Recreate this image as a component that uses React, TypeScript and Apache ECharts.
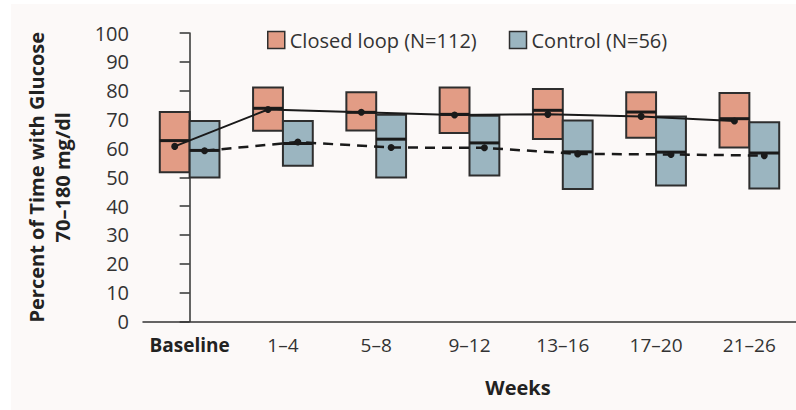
import React, { useEffect, useRef } from "react";
import * as echarts from "echarts";

const categories = ["Baseline", "1–4", "5–8", "9–12", "13–16", "17–20", "21–26"];
// [q1, median, q3]
const closedBoxes = [
  [51.7, 62.7, 72.6],
  [66.1, 73.9, 81.1],
  [66.2, 72.5, 79.5],
  [65.3, 71.8, 81.1],
  [63.3, 73.2, 80.6],
  [63.7, 72.6, 79.5],
  [60.3, 70.3, 79.2],
];
const controlBoxes = [
  [49.9, 59.3, 69.5],
  [54.0, 61.7, 69.5],
  [49.9, 63.2, 71.7],
  [50.6, 61.9, 71.3],
  [45.9, 58.8, 69.7],
  [47.1, 58.7, 71.1],
  [46.1, 58.4, 69.1],
];
const closedMeans = [60.7, 73.5, 72.5, 71.6, 71.8, 71.1, 69.5];
const controlMeans = [59.2, 62.2, 60.3, 60.2, 58.1, 57.9, 57.5];
const yTicks = { min: 0, max: 100, interval: 10 };

const FONT = "'Open Sans', sans-serif";
const CLOSED = "#E29C85";
const CONTROL = "#9BB5C0";
const EDGE = "#2e2e2e";
const BOX_W = 0.32;

function boxRender(offset: number, fill: string) {
  return (params: any, api: any) => {
    const i = api.value(0);
    const q1 = api.value(1);
    const med = api.value(2);
    const q3 = api.value(3);
    const w = api.size([BOX_W, 0])[0];
    const pTop = api.coord([i + offset, q3]);
    const pBot = api.coord([i + offset, q1]);
    const pMed = api.coord([i + offset, med]);
    return {
      type: "group",
      children: [
        {
          type: "rect",
          shape: { x: pTop[0] - w / 2, y: pTop[1], width: w, height: pBot[1] - pTop[1] },
          style: { fill, stroke: EDGE, lineWidth: 2 },
        },
        {
          type: "line",
          shape: { x1: pMed[0] - w / 2, y1: pMed[1], x2: pMed[0] + w / 2, y2: pMed[1] },
          style: { stroke: "#1a1a1a", lineWidth: 3 },
        },
      ],
    };
  };
}

export default function App() {
  const ref = useRef<HTMLDivElement>(null);
  useEffect(() => {
    document.body.style.margin = "0";
    const chart = echarts.init(ref.current!, null, { renderer: "svg" });
    const off = BOX_W / 2;
    chart.setOption({
      animation: false,
      backgroundColor: "#ffffff",
      textStyle: { fontFamily: FONT },
      graphic: [
        { type: "rect", z: -10, silent: true, shape: { x: 11, y: 4, width: 790, height: 410 }, style: { fill: "#fcf9f8" } },
        {
          type: "text",
          x: 518,
          y: 387,
          style: { text: "Weeks", font: `bold 20px ${FONT}`, fill: "#222", align: "center", verticalAlign: "middle" },
        },
      ],
      legend: {
        left: 262,
        top: 25,
        itemWidth: 17,
        itemHeight: 17,
        itemGap: 32,
        textStyle: { fontFamily: FONT, fontSize: 20, color: "#333" },
        data: [
          { name: "Closed loop (N=112)", icon: "rect", itemStyle: { color: CLOSED, borderColor: EDGE, borderWidth: 1.5 } },
          { name: "Control (N=56)", icon: "rect", itemStyle: { color: CONTROL, borderColor: EDGE, borderWidth: 1.5 } },
        ],
      },
      grid: { left: 143, top: 33, width: 658, height: 288.5 },
      xAxis: [
        {
          type: "category",
          data: categories,
          axisLine: { lineStyle: { color: "#333", width: 1.5 } },
          axisTick: { alignWithLabel: true, length: 10, lineStyle: { color: "#333", width: 1.5 } },
          axisLabel: {
            interval: 0,
            margin: 14,
            fontFamily: FONT,
            fontSize: 19,
            color: "#333",
            formatter: (v: string, i: number) => (i === 0 ? `{b|${v}}` : v),
            rich: { b: { fontWeight: "bold", fontFamily: FONT, fontSize: 19, color: "#222" } },
          },
        },
        { type: "value", min: -0.5, max: 6.5, show: false },
      ],
      yAxis: {
        type: "value",
        min: yTicks.min,
        max: yTicks.max,
        interval: yTicks.interval,
        splitLine: { show: false },
        axisLine: { show: true, lineStyle: { color: "#333", width: 1.5 } },
        axisTick: { show: true, length: 10, lineStyle: { color: "#333", width: 1.5 } },
        axisLabel: { fontFamily: FONT, fontSize: 20, color: "#333", margin: 14 },
        name: "Percent of Time with Glucose\n70–180 mg/dl",
        nameLocation: "middle",
        nameGap: 68,
        nameTextStyle: { fontFamily: FONT, fontSize: 20, fontWeight: "bold", color: "#222", lineHeight: 26 },
      },
      series: [
        {
          name: "Closed loop (N=112)",
          type: "custom",
          xAxisIndex: 1,
          renderItem: boxRender(-off, CLOSED),
          encode: { x: 0, y: [1, 2, 3] },
          itemStyle: { color: CLOSED },
          data: closedBoxes.map((b, i) => [i, ...b]),
          z: 2,
        },
        {
          name: "Control (N=56)",
          type: "custom",
          xAxisIndex: 1,
          renderItem: boxRender(off, CONTROL),
          encode: { x: 0, y: [1, 2, 3] },
          itemStyle: { color: CONTROL },
          data: controlBoxes.map((b, i) => [i, ...b]),
          z: 2,
        },
        {
          name: "Closed loop mean",
          type: "line",
          xAxisIndex: 1,
          data: closedMeans.map((m, i) => [i - off, m]),
          symbol: "circle",
          symbolSize: 7,
          itemStyle: { color: "#1a1a1a" },
          lineStyle: { color: "#1a1a1a", width: 2 },
          z: 5,
        },
        {
          name: "Control mean",
          type: "line",
          xAxisIndex: 1,
          data: controlMeans.map((m, i) => [i + off, m]),
          symbol: "circle",
          symbolSize: 7,
          itemStyle: { color: "#1a1a1a" },
          lineStyle: { color: "#1a1a1a", width: 2.5, type: [10, 7] },
          z: 5,
        },
      ],
    });
    return () => chart.dispose();
  }, []);
  return <div ref={ref} style={{ width: 796, height: 410 }} />;
}
